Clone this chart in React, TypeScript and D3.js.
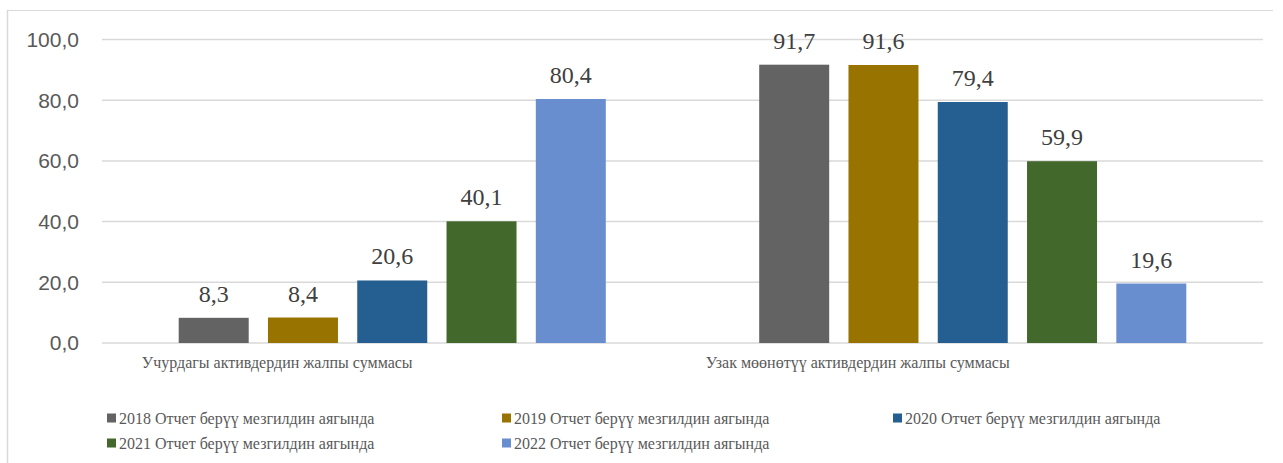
import React from "react";
import * as d3 from "d3";

const categories = ["Учурдагы активдердин жалпы суммасы", "Узак мөөнөтүү активдердин жалпы суммасы"];
const seriesNames = [
  "2018 Отчет берүү мезгилдин аягында",
  "2019 Отчет берүү мезгилдин аягында",
  "2020 Отчет берүү мезгилдин аягында",
  "2021 Отчет берүү мезгилдин аягында",
  "2022 Отчет берүү мезгилдин аягында",
];
const seriesColors = ["#636363", "#997300", "#255E91", "#43682B", "#698ED0"];
const values2018 = [8.3, 91.7];
const values2019 = [8.4, 91.6];
const values2020 = [20.6, 79.4];
const values2021 = [40.1, 59.9];
const values2022 = [80.4, 19.6];
const seriesValues = [values2018, values2019, values2020, values2021, values2022];
const yTicks = [0, 20, 40, 60, 80, 100];

const W = 1283;
const H = 463;
const plotLeft = 102;
const plotRight = 1263;
const plotTop = 39.5;
const plotBottom = 343;
const SERIF = "'Liberation Serif', 'Times New Roman', 'DejaVu Serif', serif";
const SANS = "'Liberation Sans', Arial, sans-serif";

export default function App() {
  const x0 = d3.scaleBand<string>().domain(categories).range([plotLeft, plotRight]).padding(0);
  const bw0 = x0.bandwidth();
  const outer = 76.7;
  const x1 = d3
    .scaleBand<number>()
    .domain(d3.range(seriesNames.length))
    .range([outer, bw0 - outer])
    .paddingInner(0.216)
    .paddingOuter(0);
  const y = d3.scaleLinear().domain([0, 100]).range([plotBottom, plotTop]);
  const fmt = (v: number) => d3.format(".1f")(v).replace(".", ",");

  const legendCols = [107, 502, 893];
  const legendRows = [418, 443];

  return (
    <svg width={W} height={H} style={{ position: "absolute", left: 0, top: 0, background: "#fff" }}>
      <line x1={7} x2={1273} y1={10.5} y2={10.5} stroke="#d9d9d9" strokeWidth={1} />
      <line x1={7.5} x2={7.5} y1={10} y2={H} stroke="#d9d9d9" strokeWidth={1.5} />
      {yTicks.map((t) => (
        <g key={t}>
          <line x1={plotLeft} x2={plotRight} y1={y(t)} y2={y(t)} stroke="#d9d9d9" strokeWidth={1.5} />
          <text
            x={79}
            y={y(t)}
            dy="0.35em"
            textAnchor="end"
            style={{ fontFamily: SANS, fontSize: 21 }}
            fill="#595959"
          >
            {fmt(t)}
          </text>
        </g>
      ))}
      {categories.map((c, ci) => (
        <g key={c} transform={`translate(${x0(c)},0)`}>
          {seriesValues.map((vals, si) => {
            const v = vals[ci];
            const bx = x1(si)!;
            const bw = x1.bandwidth();
            return (
              <g key={si}>
                <rect x={bx} y={y(v)} width={bw} height={y(0) - y(v)} fill={seriesColors[si]} />
                <text
                  x={bx + bw / 2}
                  y={y(v) - 16}
                  textAnchor="middle"
                  style={{ fontFamily: SERIF, fontSize: 24 }}
                  fill="#404040"
                >
                  {fmt(v)}
                </text>
              </g>
            );
          })}
          <text
            x={bw0 / 2 - 115}
            y={362}
            dy="0.35em"
            textAnchor="middle"
            style={{ fontFamily: SERIF, fontSize: 16 }}
            fill="#595959"
          >
            {c}
          </text>
        </g>
      ))}
      {seriesNames.map((s, i) => {
        const lx = legendCols[i % 3];
        const ly = legendRows[Math.floor(i / 3)];
        return (
          <g key={s}>
            <rect x={lx} y={ly - 4.5} width={9} height={9} fill={seriesColors[i]} />
            <text
              x={lx + 12}
              y={ly}
              dy="0.35em"
              style={{ fontFamily: SERIF, fontSize: 16 }}
              fill="#595959"
            >
              {s}
            </text>
          </g>
        );
      })}
    </svg>
  );
}
